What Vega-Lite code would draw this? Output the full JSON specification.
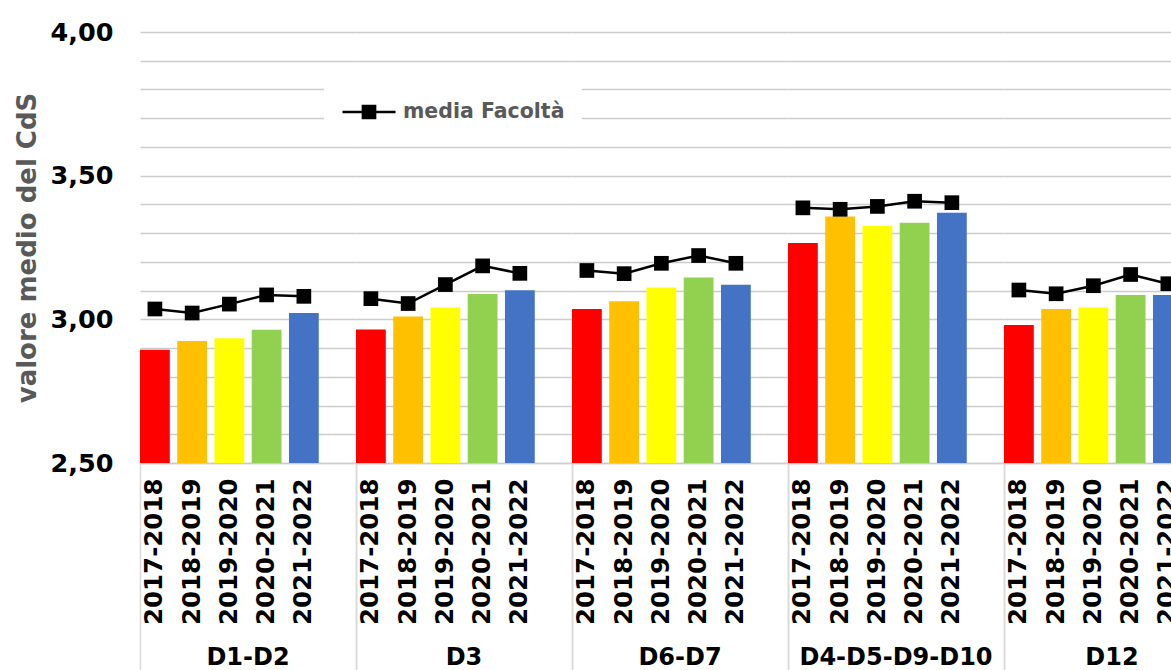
{
  "$schema": "https://vega.github.io/schema/vega-lite/v6.json",
  "padding": {"left": 14, "top": 20, "right": 0, "bottom": 0},
  "background": "white",
  "data": {
    "values": [
      {"group": "D1-D2", "year": "2017-2018", "value": 2.894, "media": 3.036},
      {"group": "D1-D2", "year": "2018-2019", "value": 2.925, "media": 3.022},
      {"group": "D1-D2", "year": "2019-2020", "value": 2.934, "media": 3.053},
      {"group": "D1-D2", "year": "2020-2021", "value": 2.964, "media": 3.085},
      {"group": "D1-D2", "year": "2021-2022", "value": 3.022, "media": 3.080},
      {"group": "D3", "year": "2017-2018", "value": 2.965, "media": 3.072},
      {"group": "D3", "year": "2018-2019", "value": 3.010, "media": 3.055},
      {"group": "D3", "year": "2019-2020", "value": 3.041, "media": 3.121},
      {"group": "D3", "year": "2020-2021", "value": 3.088, "media": 3.186},
      {"group": "D3", "year": "2021-2022", "value": 3.101, "media": 3.160},
      {"group": "D6-D7", "year": "2017-2018", "value": 3.036, "media": 3.170},
      {"group": "D6-D7", "year": "2018-2019", "value": 3.063, "media": 3.159},
      {"group": "D6-D7", "year": "2019-2020", "value": 3.111, "media": 3.195},
      {"group": "D6-D7", "year": "2020-2021", "value": 3.146, "media": 3.222},
      {"group": "D6-D7", "year": "2021-2022", "value": 3.120, "media": 3.195},
      {"group": "D4-D5-D9-D10", "year": "2017-2018", "value": 3.266, "media": 3.388},
      {"group": "D4-D5-D9-D10", "year": "2018-2019", "value": 3.358, "media": 3.383},
      {"group": "D4-D5-D9-D10", "year": "2019-2020", "value": 3.326, "media": 3.393},
      {"group": "D4-D5-D9-D10", "year": "2020-2021", "value": 3.336, "media": 3.411},
      {"group": "D4-D5-D9-D10", "year": "2021-2022", "value": 3.371, "media": 3.406},
      {"group": "D12", "year": "2017-2018", "value": 2.980, "media": 3.102},
      {"group": "D12", "year": "2018-2019", "value": 3.036, "media": 3.089},
      {"group": "D12", "year": "2019-2020", "value": 3.041, "media": 3.117},
      {"group": "D12", "year": "2020-2021", "value": 3.085, "media": 3.156},
      {"group": "D12", "year": "2021-2022", "value": 3.085, "media": 3.124}
    ]
  },
  "facet": {
    "column": {
      "field": "group",
      "type": "nominal",
      "sort": ["D1-D2", "D3", "D6-D7", "D4-D5-D9-D10", "D12"],
      "title": null,
      "header": {
        "labelOrient": "bottom",
        "labelFont": "DejaVu Sans",
        "labelFontSize": 24,
        "labelFontWeight": "bold",
        "labelColor": "black",
        "labelPadding": -28,
        "labelBaseline": "top"
      }
    }
  },
  "spacing": 0,
  "spec": {
    "width": 216,
    "height": 431,
    "encoding": {
      "x": {
        "field": "year",
        "type": "nominal",
        "scale": {
          "domain": ["2017-2018", "2018-2019", "2019-2020", "2020-2021", "2021-2022", " "],
          "paddingInner": 0.2,
          "paddingOuter": 0
        },
        "axis": {
          "title": null,
          "labelAngle": -90,
          "labelAlign": "right",
          "labelBaseline": "middle",
          "labelFont": "DejaVu Sans",
          "labelFontSize": 24.5,
          "labelFontWeight": "bold",
          "labelColor": "black",
          "labelOverlap": false,
          "tickBand": "extent",
          "tickSize": 210,
          "tickWidth": 1.5,
          "tickColor": {"condition": {"test": "datum.value === ' ' || datum.extra", "value": "#d9d9d9"}, "value": "transparent"},
          "labelPadding": -195,
          "domainColor": "#d9d9d9",
          "domainWidth": 1.5,
          "grid": false
        }
      }
    },
    "layer": [
      {
        "mark": {"type": "bar"},
        "encoding": {
          "y": {
            "field": "value",
            "type": "quantitative",
            "scale": {"domain": [2.5, 4.0], "zero": false, "nice": false},
            "axis": {
              "title": "valore medio del CdS",
              "titleFont": "DejaVu Sans",
              "titleFontSize": 26,
              "titleFontWeight": "bold",
              "titleColor": "#595959",
              "titlePadding": 10,
              "values": [2.5, 2.6, 2.7, 2.8, 2.9, 3.0, 3.1, 3.2, 3.3, 3.4, 3.5, 3.6, 3.7, 3.8, 3.9, 4.0],
              "tickCount": 30,
              "labelExpr": "abs(datum.value*2 - round(datum.value*2)) < 0.001 ? replace(format(datum.value, '.2f'), '.', ',') : ''",
              "labelOverlap": false,
              "labelFont": "DejaVu Sans",
              "labelFontSize": 25.5,
              "labelFontWeight": "bold",
              "labelColor": "black",
              "labelPadding": 27,
              "ticks": false,
              "domain": false,
              "grid": true,
              "gridColor": "#cccccc",
              "gridWidth": 1.3
            }
          },
          "y2": {"datum": 2.5},
          "color": {
            "field": "year",
            "type": "nominal",
            "scale": {
              "domain": ["2017-2018", "2018-2019", "2019-2020", "2020-2021", "2021-2022"],
              "range": ["#FF0000", "#FFC000", "#FFFF00", "#92D050", "#4472C4"]
            },
            "legend": null
          }
        }
      },
      {
        "mark": {"type": "line", "strokeWidth": 2.5},
        "encoding": {
          "y": {"field": "media", "type": "quantitative"},
          "stroke": {
            "datum": "media Facoltà",
            "scale": {"range": ["black"]},
            "legend": {
              "title": null,
              "orient": "none",
              "legendX": 184,
              "legendY": 35,
              "fillColor": "white",
              "padding": 17,
              "symbolType": "M-1,0H1M-0.23,-0.23H0.23V0.23H-0.23Z",
              "symbolSize": 2809,
              "symbolStrokeWidth": 2.5,
              "symbolFillColor": "black",
              "symbolStrokeColor": "black",
              "labelFont": "DejaVu Sans",
              "labelFontSize": 20.5,
              "labelFontWeight": "bold",
              "labelColor": "#595959",
              "labelOffset": 6,
              "labelLimit": 400,
              "encode": {"symbols": {"update": {"fill": {"value": "black"}, "stroke": {"value": "black"}}}}
            }
          }
        }
      },
      {
        "mark": {"type": "point", "shape": "square", "size": 216, "filled": true, "color": "black", "opacity": 1},
        "encoding": {
          "y": {"field": "media", "type": "quantitative"}
        }
      }
    ]
  },
  "resolve": {"scale": {"y": "shared"}},
  "config": {
    "view": {"stroke": null},
    "font": "DejaVu Sans"
  }
}
